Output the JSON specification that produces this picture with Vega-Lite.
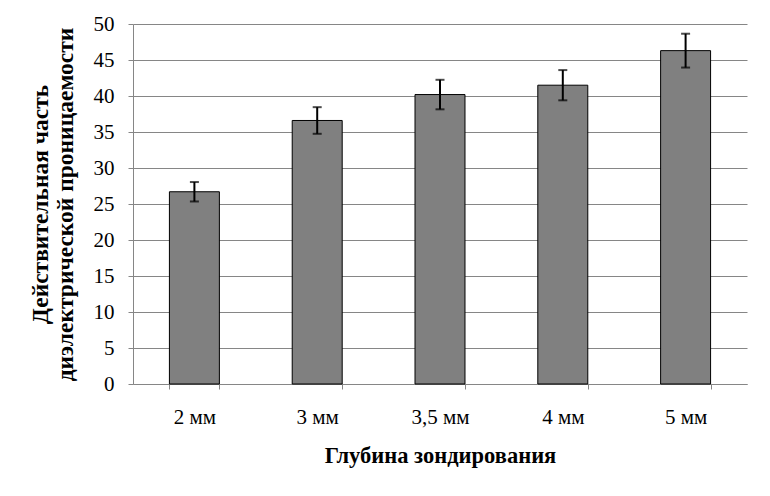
{
  "$schema": "https://vega.github.io/schema/vega-lite/v6.json",
  "width": 614,
  "height": 360,
  "autosize": {"type": "none"},
  "padding": {"left": 133, "top": 24, "right": 23, "bottom": 112},
  "background": "white",
  "config": {"view": {"stroke": null}, "font": "Liberation Serif"},
  "data": {
    "values": [
      {"depth": "2 мм", "value": 26.7, "err": 1.35},
      {"depth": "3 мм", "value": 36.6, "err": 1.85},
      {"depth": "3,5 мм", "value": 40.2, "err": 2.05},
      {"depth": "4 мм", "value": 41.5, "err": 2.1},
      {"depth": "5 мм", "value": 46.3, "err": 2.35}
    ]
  },
  "encoding": {
    "x": {
      "field": "depth",
      "type": "nominal",
      "sort": null,
      "scale": {"paddingInner": 0.593, "paddingOuter": 0.2965},
      "axis": {
        "title": "Глубина зондирования",
        "labelAngle": 0,
        "tickBand": "extent",
        "domainColor": "#868686",
        "tickColor": "#868686",
        "tickSize": 5,
        "labelFont": "Liberation Serif",
        "labelFontSize": 21,
        "labelColor": "#000000",
        "labelPadding": 17,
        "titleFont": "Liberation Serif",
        "titleFontSize": 22.5,
        "titleFontWeight": "bold",
        "titleColor": "#000000",
        "titlePadding": 17
      }
    },
    "y": {
      "field": "value",
      "type": "quantitative",
      "scale": {"domain": [0, 50]},
      "axis": {
        "title": ["Действительная часть", "диэлектрической проницаемости"],
        "values": [0, 5, 10, 15, 20, 25, 30, 35, 40, 45, 50],
        "grid": true,
        "gridColor": "#868686",
        "gridOpacity": 1,
        "domainColor": "#868686",
        "tickColor": "#868686",
        "tickSize": 5,
        "labelFont": "Liberation Serif",
        "labelFontSize": 21,
        "labelColor": "#000000",
        "labelPadding": 14,
        "titleFont": "Liberation Serif",
        "titleFontSize": 23.5,
        "titleFontWeight": "bold",
        "titleColor": "#000000",
        "titleLineHeight": 25,
        "titlePadding": 16
      }
    }
  },
  "layer": [
    {
      "mark": {"type": "bar", "fill": "#808080", "stroke": "#000000", "strokeWidth": 1}
    },
    {
      "mark": {
        "type": "errorbar",
        "color": "#000000",
        "thickness": 2,
        "ticks": {"size": 9, "thickness": 2, "color": "#000000"}
      },
      "encoding": {
        "yError": {"field": "err"}
      }
    }
  ]
}
